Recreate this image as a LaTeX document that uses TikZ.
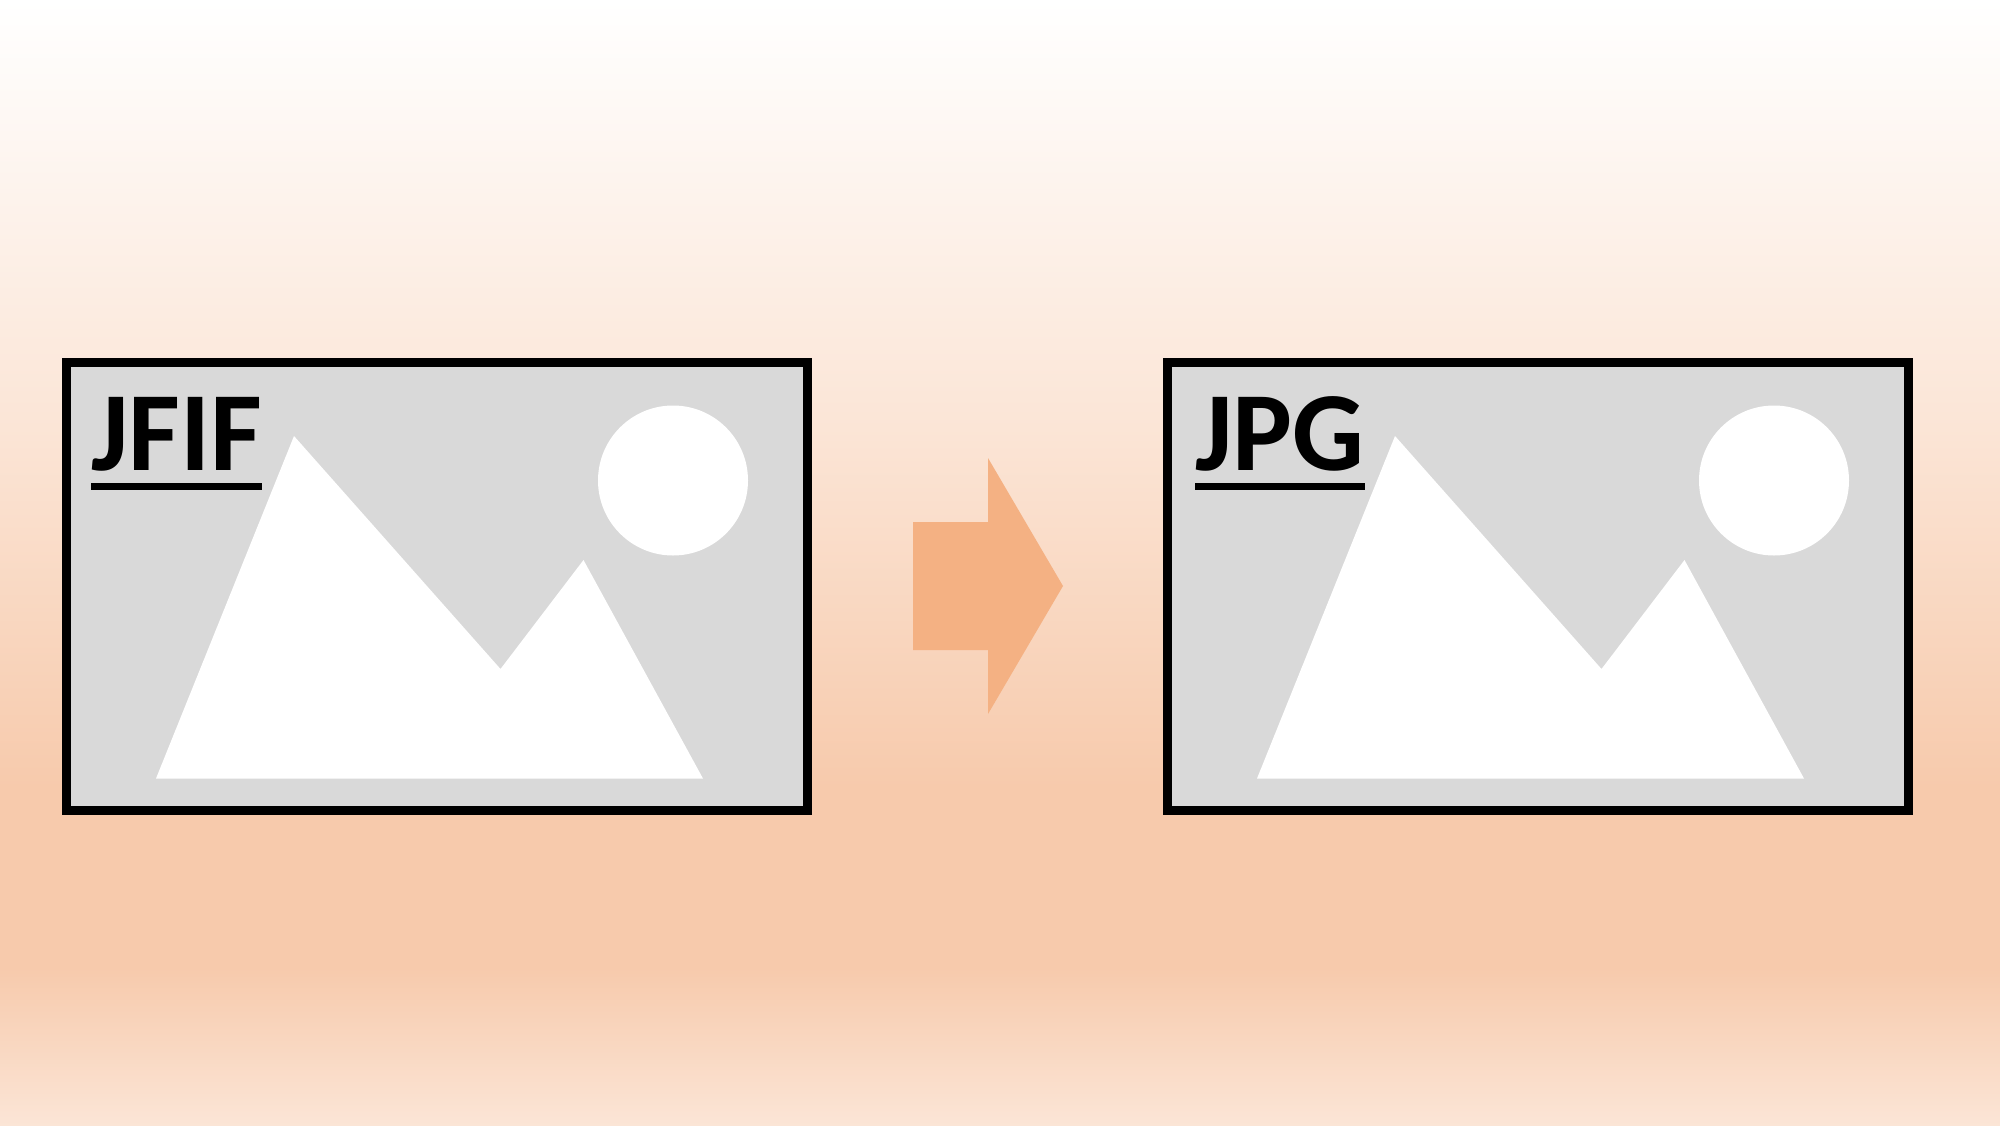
\documentclass[tikz,border=0pt]{standalone}
\usepackage{fontspec}
\setmainfont{Carlito}
\definecolor{framefill}{HTML}{D9D9D9}
\definecolor{arrowfill}{HTML}{F4B183}
\definecolor{pagepale}{HTML}{FBE5D6}
\definecolor{pagedeep}{HTML}{F7CAAC}
\pgfdeclareverticalshading{pageshade}{100bp}{
	color(0bp)=(pagepale);
	color(25bp)=(pagepale);
	color(32bp)=(pagedeep);
	color(40bp)=(pagedeep);
	color(56bp)=(pagepale);
	color(75bp)=(white);
	color(100bp)=(white)}
\tikzset{
	frame/.style={draw=black, line width=9pt, fill=framefill},
	shine/.style={fill=white},
	title/.style={anchor=base west, inner sep=0pt, font=\fontsize{112.8pt}{112.8pt}\selectfont\bfseries}
}
\begin{document}
\begin{tikzpicture}[x=1pt,y=-1pt]
	\useasboundingbox (0,0) rectangle (2000,1125);
	\shade[shading=pageshade] (0,0) rectangle (2000,1125);
	\foreach \xo/\xt/\txt in {0/91/JFIF,1101/1195/JPG}{
		\begin{scope}[shift={(\xo,0)}]
			\draw[frame] (66.5,362.5) rectangle (807.5,810.5);
			\fill[shine] (156,778.5) -- (294,436) -- (500.5,669) -- (583.5,560) -- (703,778.5) -- cycle;
			\fill[shine] (673,480.5) circle (75);
		\end{scope}
		\node[title] (label\txt) at (\xt,470.5) {\txt};
		\fill ([yshift=-12.5pt]label\txt.base west) rectangle ([yshift=-19.5pt]label\txt.base east);
	}
	\fill[arrowfill] (913,522) -- (988,522) -- (988,458) -- (1063,586) -- (988,714) -- (988,650) -- (913,650) -- cycle;
\end{tikzpicture}
\end{document}
